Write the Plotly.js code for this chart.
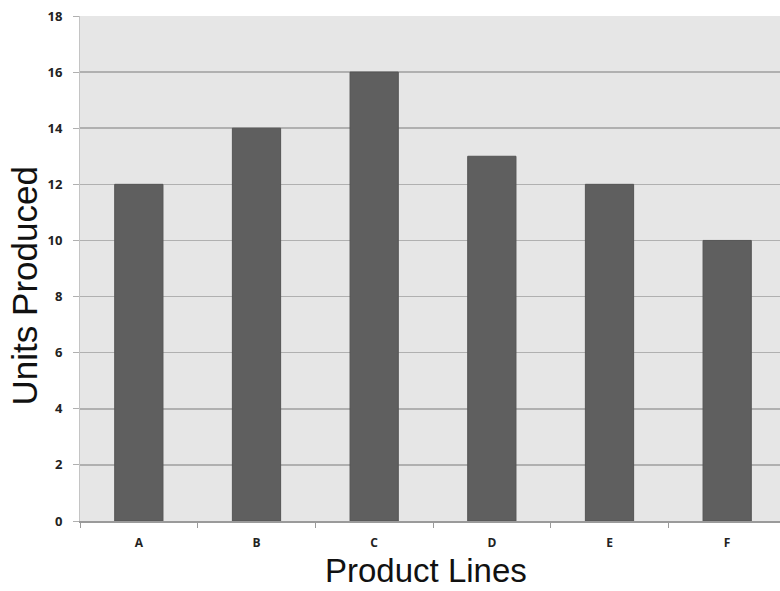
<!DOCTYPE html>
<html><head><meta charset="utf-8">
<script src="https://cdn.plot.ly/plotly-3.0.1.min.js"></script>
<style>html,body{margin:0;padding:0;overflow:hidden;background:#fff;width:780px;height:591px}</style>
</head><body>
<div id="chart" style="width:786px;height:591px"></div>
<script>
const categories = ["A", "B", "C", "D", "E", "F"];
const unitsProduced = [12, 14, 16, 13, 12, 10];
const yTicks = [0, 2, 4, 6, 8, 10, 12, 14, 16, 18];
const xTitle = "Product Lines";
const yTitle = "Units Produced";

Plotly.newPlot("chart", [{
  type: "bar",
  x: categories,
  y: unitsProduced,
  marker: {color: "#5f5f5f", line: {color: "#555555", width: 1}},
  hoverinfo: "none"
}], {
  width: 786, height: 591,
  margin: {l: 80, r: 0, t: 16, b: 70},
  paper_bgcolor: "#ffffff",
  plot_bgcolor: "#e6e6e6",
  bargap: 0.59,
  showlegend: false,
  xaxis: {
    type: "category",
    showgrid: false,
    showline: true, linecolor: "#9a9a9a", linewidth: 1.5,
    ticks: "outside", tickson: "boundaries", ticklen: 5, tickcolor: "#9a9a9a", tickwidth: 1,
    ticklabelstandoff: 10,
    tickfont: {family: "Open Sans", size: 12, color: "#222", weight: "bold"}
  },
  yaxis: {
    range: [0, 18],
    tickvals: yTicks,
    showgrid: true, gridcolor: "#b0b0b0", gridwidth: 1.5,
    showline: true, linecolor: "#c4c4c4", linewidth: 1,
    ticks: "outside", ticklen: 6, tickcolor: "#b0b0b0",
    ticklabelstandoff: 8,
    zeroline: false,
    tickfont: {family: "Open Sans", size: 13, color: "#222", weight: "bold"}
  },
  annotations: [
    {text: xTitle, xref: "paper", yref: "paper", x: 0.49, y: -0.098,
     xanchor: "center", yanchor: "middle", showarrow: false,
     font: {family: "Liberation Sans, Arial", size: 33, color: "#111"}},
    {text: yTitle, xref: "paper", yref: "paper", x: -0.079, y: 0.465, textangle: -90,
     xanchor: "center", yanchor: "middle", showarrow: false,
     font: {family: "Liberation Sans, Arial", size: 35, color: "#111"}}
  ]
}, {staticPlot: true});
</script>
</body></html>
